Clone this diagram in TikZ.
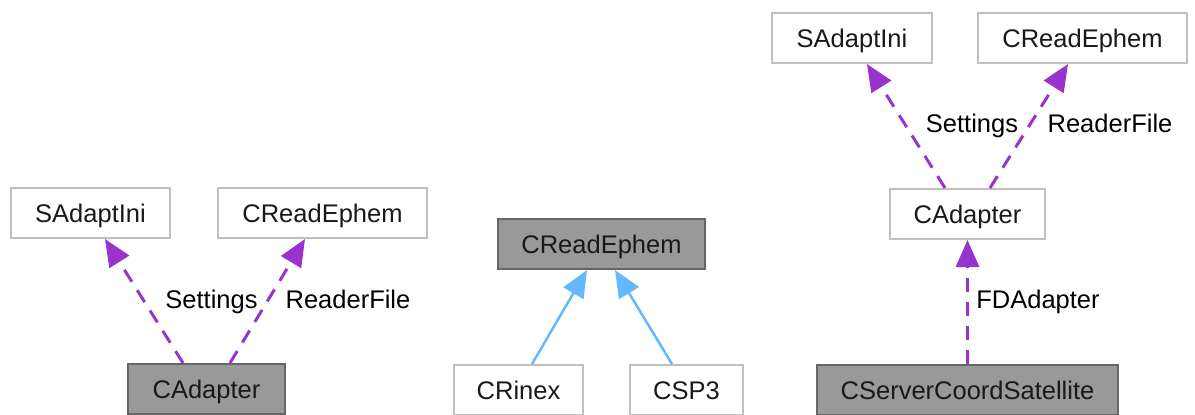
\documentclass[tikz,border=0pt]{standalone}
\usepackage{fontspec}
\setmainfont{Liberation Sans}
\usetikzlibrary{arrows.meta}
\definecolor{edgegray}{HTML}{BFBFBF}
\definecolor{focusfill}{HTML}{999999}
\definecolor{focusedge}{HTML}{666666}
\definecolor{usepurple}{HTML}{9A32CD}
\definecolor{inhblue}{HTML}{63B8FF}
\tikzset{
  cls/.style={draw=edgegray, line width=2pt, fill=white, inner sep=0pt,
    minimum height=50pt, text height=18pt, text depth=0pt, align=center,
    font=\fontsize{25.5}{30}\selectfont, text=black!90},
  focus/.style={cls, draw=focusedge, fill=focusfill},
  usage/.style={usepurple, line width=3pt, dash pattern=on 14pt off 10pt,
    -{Triangle[length=27pt,width=23pt]}},
  inherit/.style={inhblue, line width=2.5pt,
    -{Triangle[length=27pt,width=23pt]}},
  elabel/.style={anchor=base, inner sep=0pt, font=\fontsize{25.5}{30}\selectfont, text=black}
}
\begin{document}
\begin{tikzpicture}[x=1pt, y=-1pt]
\useasboundingbox (0,0) rectangle (1195,415);

% collaboration graph of CAdapter
\node[cls, minimum width=159pt] (lsa) at (90.5,213) {SAdaptIni};
\node[cls, minimum width=209pt] (lre) at (322.5,213) {CReadEphem};
\node[focus, minimum width=157pt] (lca) at (206.5,389) {CAdapter};
\draw[usage] ([xshift=-23.5pt]lca.north) -- ([xshift=14.5pt]lsa.south);
\draw[usage] ([xshift=23.5pt]lca.north) -- ([xshift=-17.5pt]lre.south);
\node[elabel] (lset) at (211.5,308) {Settings};
\node[elabel] (lrf) at (348,308) {ReaderFile};

% inheritance graph of CReadEphem
\node[focus, minimum width=207pt] (mre) at (601.5,244) {CReadEphem};
\node[cls, minimum width=129pt] (mri) at (518.5,390) {CRinex};
\node[cls, minimum width=113pt] (msp) at (686.5,390) {CSP3};
\draw[inherit] ([xshift=13.5pt]mri.north) -- ([xshift=-14.5pt]mre.south);
\draw[inherit] ([xshift=-14.5pt]msp.north) -- ([xshift=13.5pt]mre.south);

% collaboration graph of CServerCoordSatellite
\node[cls, minimum width=160pt] (rsa) at (852,38) {SAdaptIni};
\node[cls, minimum width=209pt] (rre) at (1082.5,38) {CReadEphem};
\node[cls, minimum width=155pt] (rca) at (967.5,214) {CAdapter};
\node[focus, minimum width=301pt] (rcs) at (967.5,390) {CServerCoordSatellite};
\draw[usage] ([xshift=-22.5pt]rca.north) -- ([xshift=15pt]rsa.south);
\draw[usage] ([xshift=22.5pt]rca.north) -- ([xshift=-14.5pt]rre.south);
\draw[usage] (rcs.north) -- (rca.south);
\node[elabel] (rset) at (972,132) {Settings};
\node[elabel] (rrf) at (1110,132) {ReaderFile};
\node[elabel] (rfd) at (1038,308) {FDAdapter};
\end{tikzpicture}
\end{document}
